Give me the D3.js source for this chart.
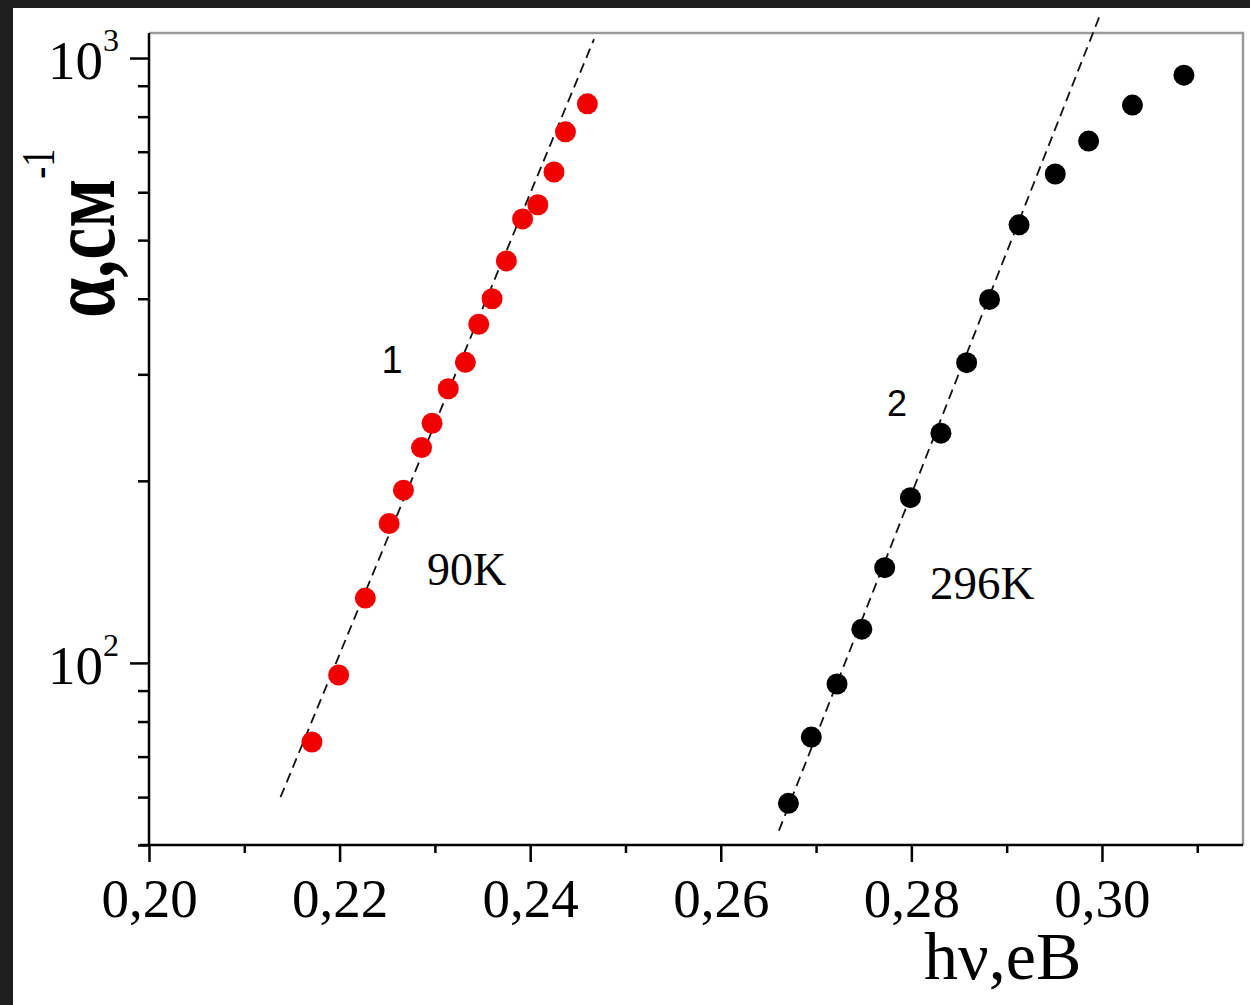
<!DOCTYPE html>
<html>
<head>
<meta charset="utf-8">
<script src="https://cdn.jsdelivr.net/npm/d3@7"></script>
<style>
  html, body { margin: 0; padding: 0; background: #1e1e1e; }
  svg { display: block; }
</style>
</head>
<body>
<div id="chart"></div>
<script>
// 90K series (curve 1)
const redX = [0.2171, 0.2199, 0.2227, 0.2252, 0.2267, 0.2286, 0.2297, 0.2314, 0.2332, 0.2346, 0.2360, 0.2375, 0.2392, 0.2408, 0.2425, 0.2437, 0.2460];
const redY = [74, 95.5, 128, 170, 193, 227, 249, 284, 314, 363, 400, 462, 542, 572, 648, 755, 840];
// 296K series (curve 2)
const blackX = [0.2671, 0.2695, 0.2722, 0.2748, 0.2772, 0.2799, 0.2831, 0.2858, 0.2882, 0.2913, 0.2951, 0.2986, 0.3032, 0.3086];
const blackY = [58.6, 75.4, 92.3, 113.7, 143.7, 187.6, 239.8, 313.6, 399, 530, 643, 729, 836, 937];
// dashed fit lines (end points)
const fit1X = [0.2138, 0.2467];
const fit1Y = [60, 1075];
const fit2X = [0.2661, 0.2998];
const fit2Y = [52.8, 1178];
// ticks
const xMajor = [0.20, 0.22, 0.24, 0.26, 0.28, 0.30];
const xMinor = [0.21, 0.23, 0.25, 0.27, 0.29, 0.31];
const yMajor = [100, 1000];
const yMinor = [50, 60, 70, 80, 90, 200, 300, 400, 500, 600, 700, 800, 900];

const W = 1250, H = 1005;
const margin = { top: 33, right: 7, bottom: 160, left: 149 };
const serif = '"Liberation Serif", "Times New Roman", serif';
const sans = '"Liberation Sans", Arial, sans-serif';

const svg = d3.select('#chart').append('svg')
  .attr('width', W)
  .attr('height', H);

// white page area (dark strips on top / left)
svg.append('rect')
  .attr('x', 13).attr('y', 8)
  .attr('width', W - 13).attr('height', H - 8)
  .attr('fill', '#fff');

const x = d3.scaleLinear().domain([0.20, 0.3148]).range([margin.left, W - margin.right]);
const y = d3.scaleLog().domain([50, 1100]).range([H - margin.bottom, margin.top]);

// frame: top and right in gray
svg.append('path')
  .attr('d', `M${x.range()[0]},${y.range()[1]}H${x.range()[1]}V${y.range()[0]}`)
  .attr('fill', 'none')
  .attr('stroke', '#9a9a9a')
  .attr('stroke-width', 2.5);

// dashed fits
const line = d3.line().x(d => x(d[0])).y(d => y(d[1]));
[[fit1X, fit1Y], [fit2X, fit2Y]].forEach(([fx, fy]) => {
  svg.append('path')
    .datum(fx.map((v, i) => [v, fy[i]]))
    .attr('d', line)
    .attr('fill', 'none')
    .attr('stroke', '#111')
    .attr('stroke-width', 1.8)
    .attr('stroke-dasharray', '10,6');
});

// points
svg.append('g').selectAll('circle')
  .data(redX.map((v, i) => [v, redY[i]]))
  .join('circle')
  .attr('cx', d => x(d[0]))
  .attr('cy', d => y(d[1]))
  .attr('r', 10.5)
  .attr('fill', '#f20000');

svg.append('g').selectAll('circle')
  .data(blackX.map((v, i) => [v, blackY[i]]))
  .join('circle')
  .attr('cx', d => x(d[0]))
  .attr('cy', d => y(d[1]))
  .attr('r', 10.5)
  .attr('fill', '#000');

// X axis
const xAxis = svg.append('g')
  .attr('transform', `translate(0,${H - margin.bottom})`);
xAxis.append('g')
  .call(d3.axisBottom(x).tickValues(xMinor).tickSize(8).tickFormat(''))
  .call(g => g.select('.domain').remove());
xAxis.append('g')
  .call(d3.axisBottom(x).tickValues(xMajor).tickSize(17).tickSizeOuter(0)
    .tickFormat(d => d.toFixed(2).replace('.', ',')))
  .call(g => g.select('.domain').attr('d', `M${x.range()[0] - 9},0H${x.range()[1]}`));
xAxis.selectAll('line, path').attr('stroke', '#000').attr('stroke-width', 2.5);
xAxis.selectAll('text')
  .attr('font-family', serif)
  .attr('font-size', 55)
  .attr('fill', '#000')
  .attr('dy', 0)
  .attr('y', 72);

// Y axis
const yAxis = svg.append('g')
  .attr('transform', `translate(${margin.left},0)`);
yAxis.append('g')
  .call(d3.axisLeft(y).tickValues(yMinor).tickSize(11).tickFormat(''))
  .call(g => g.select('.domain').remove());
yAxis.append('g')
  .call(d3.axisLeft(y).tickValues(yMajor).tickSize(19).tickSizeOuter(0).tickFormat(''))
  .call(g => g.select('.domain').attr('d', `M0,${y.range()[0]}V${y.range()[1]}`));
yAxis.selectAll('line, path').attr('stroke', '#000').attr('stroke-width', 2.5);

yMajor.forEach(v => {
  const t = svg.append('text')
    .attr('x', margin.left - 30)
    .attr('y', y(v) + 21)
    .attr('text-anchor', 'end')
    .attr('font-family', serif)
    .attr('font-size', 55)
    .attr('fill', '#000');
  t.append('tspan').text('10');
  t.append('tspan')
    .attr('dy', -28)
    .attr('font-size', 32)
    .text(Math.round(Math.log10(v)));
});

// axis titles
svg.append('text')
  .attr('x', 924)
  .attr('y', 979)
  .attr('font-family', serif)
  .attr('font-size', 68)
  .attr('fill', '#000')
  .text('hν,eB');

const yTitle = svg.append('text')
  .attr('transform', 'translate(114,318) rotate(-90) scale(1,1.3)')
  .attr('font-family', serif)
  .attr('font-weight', 'bold')
  .attr('font-size', 72)
  .attr('fill', '#000');
yTitle.append('tspan').text('α,см');
yTitle.append('tspan')
  .attr('dy', -46)
  .attr('font-weight', 'normal')
  .attr('font-size', 36)
  .text('-1');

// curve labels
const labels = [
  { t: '1', x: 392, y: 373, f: sans, s: 38 },
  { t: '2', x: 897, y: 416, f: sans, s: 36 },
  { t: '90K', x: 427, y: 585, f: serif, s: 46 },
  { t: '296K', x: 930, y: 599, f: serif, s: 47 }
];
labels.forEach(d => {
  svg.append('text')
    .attr('x', d.x)
    .attr('y', d.y)
    .attr('text-anchor', d.t.length === 1 ? 'middle' : 'start')
    .attr('font-family', d.f)
    .attr('font-size', d.s)
    .attr('fill', '#000')
    .text(d.t);
});
</script>
</body>
</html>
